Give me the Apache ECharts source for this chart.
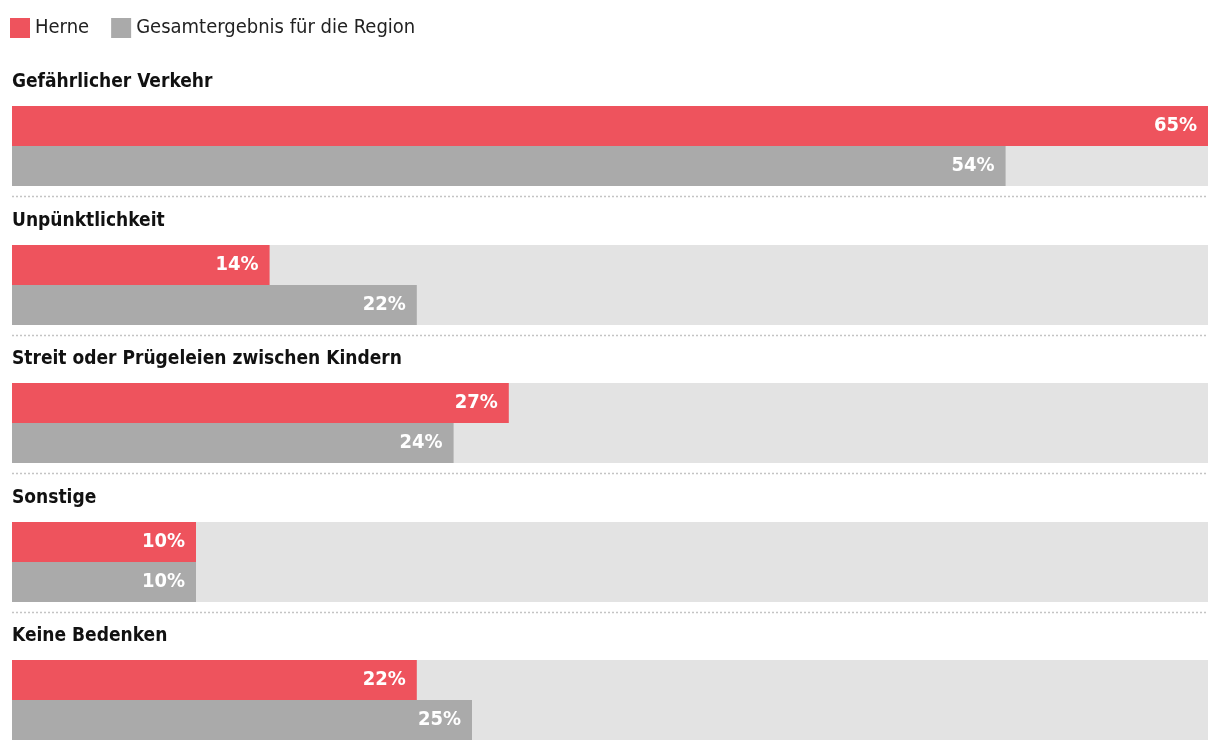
<!DOCTYPE html>
<html>
<head>
<meta charset="utf-8">
<script src="https://cdn.jsdelivr.net/npm/echarts@6/dist/echarts.min.js"></script>
<style>
html,body{margin:0;padding:0;background:#fff;}
#chart{width:1220px;height:752px;}
</style>
</head>
<body>
<div id="chart"></div>
<script>
const categories = ['Gefährlicher Verkehr', 'Unpünktlichkeit', 'Streit oder Prügeleien zwischen Kindern', 'Sonstige', 'Keine Bedenken'];
const seriesNames = ['Herne', 'Gesamtergebnis für die Region'];
const herne = [65, 14, 27, 10, 22];
const region = [54, 22, 24, 10, 25];
const axisMax = 65;

const FONT = "'DejaVu Sans Condensed', 'Liberation Sans Narrow', 'Roboto', sans-serif";
const RED = '#ee535d', GRAY = '#aaaaaa', TRACK = '#e3e3e3';
const firstTop = 106, pitch = 138.5, barH = 40;

const grids = [], xAxes = [], yAxes = [], series = [], titles = [], graphics = [];
categories.forEach((cat, i) => {
  const top = Math.round(firstTop + i * pitch);
  grids.push({ left: 12, right: 12, top: top, height: barH * 2, containLabel: false });
  xAxes.push({ type: 'value', gridIndex: i, min: 0, max: axisMax, show: false });
  yAxes.push({ type: 'category', gridIndex: i, data: seriesNames, inverse: true, show: false });
  titles.push({ text: cat, left: 12, top: top - 33, padding: 0,
    textStyle: { fontFamily: FONT, fontSize: 19, fontWeight: 'bold', color: '#111' } });
  series.push({ type: 'bar', name: 'track', xAxisIndex: i, yAxisIndex: i, silent: true,
    barWidth: barH, barGap: '-100%', data: [axisMax, axisMax],
    itemStyle: { color: TRACK }, label: { show: false }, emphasis: { disabled: true }, z: 1 });
  const lab = { show: true, position: 'insideRight', distance: 11, formatter: '{c}%',
    color: '#fff', fontFamily: FONT, fontWeight: 'bold', fontSize: 20 };
  series.push({ type: 'bar', name: seriesNames[0], xAxisIndex: i, yAxisIndex: i,
    barWidth: barH, barGap: '-100%', data: [herne[i], '-'],
    itemStyle: { color: RED }, label: lab, z: 2 });
  series.push({ type: 'bar', name: seriesNames[1], xAxisIndex: i, yAxisIndex: i,
    barWidth: barH, barGap: '-100%', data: ['-', region[i]],
    itemStyle: { color: GRAY }, label: lab, z: 2 });
  if (i < categories.length - 1) {
    const y = Math.round(top + barH * 2 + 10) + 0.5;
    graphics.push({ type: 'line', silent: true,
      shape: { x1: 12, y1: y, x2: 1208, y2: y },
      style: { stroke: '#c4c4c4', lineWidth: 1.5, lineDash: [2, 2] } });
  }
});

const chart = echarts.init(document.getElementById('chart'), null, { renderer: 'canvas' });
chart.setOption({
  animation: false,
  backgroundColor: '#fff',
  title: titles,
  legend: {
    data: seriesNames, left: 10, top: 18, padding: 0,
    icon: 'rect', itemWidth: 20, itemHeight: 20, itemGap: 22,
    textStyle: { fontFamily: FONT, fontSize: 20, color: '#222' }
  },
  grid: grids, xAxis: xAxes, yAxis: yAxes, series: series,
  graphic: graphics
});
</script>
</body>
</html>
